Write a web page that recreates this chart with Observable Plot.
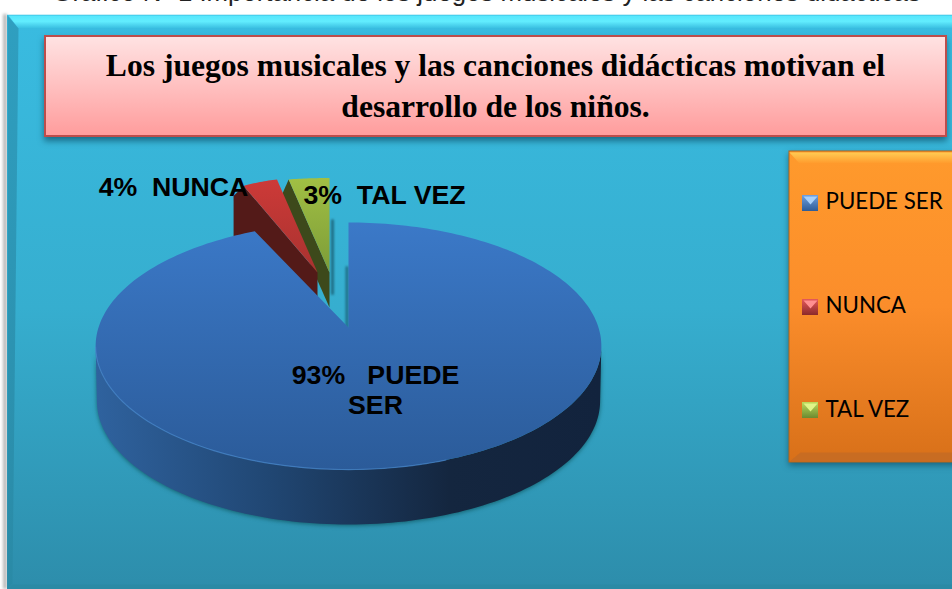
<!DOCTYPE html>
<html><head><meta charset="utf-8">
<script src="https://cdn.jsdelivr.net/npm/d3@7"></script>
<script src="https://cdn.jsdelivr.net/npm/@observablehq/plot@0.6"></script>
<style>html,body{margin:0;padding:0;background:#fff;overflow:hidden}svg{display:block}</style>
</head><body><div id="chart"></div>
<script>
const categories = ["PUEDE SER", "NUNCA", "TAL VEZ"];
const values = [93, 4, 3];
const caption = "Gráfico Nº 1 Importancia de los juegos musicales y las canciones didácticas";
const titleLines = ["Los juegos musicales y las canciones didácticas motivan el", "desarrollo de los niños."];

// --- layout (screen-space canvas, mapped 1:1 through the x/y scales) ---
const W = 952, H = 589;
const apex = [348, 327], R = 250, Q = 120.75, K = -0.15;
const project = (u, v) => { const d = 1 + K * v; return [R * u / d, Q * v / d]; };
const arcs = d3.pie().sort(null)(values);
const arcPoints = (a0, a1, n) => d3.range(n + 1).map(i => {
  const t = a0 + (a1 - a0) * i / n;
  return {t, u: Math.sin(t), v: -Math.cos(t)};
});
const P = (x, y) => ({x, y});

// blue slice (top face + outer wall)
const blueArc = arcPoints(arcs[0].startAngle, arcs[0].endAngle, 240);
const blueTop = [P(...apex), ...blueArc.map(p => { const [a, b] = project(p.u, p.v); return P(apex[0] + a, apex[1] + b); })];
const front = blueArc.filter(p => p.v >= 0.15).map(p => { const [a, b] = project(p.u, p.v); return P(apex[0] + a, apex[1] + b); });
const wallShift = 55;
const blueWall = [...front, ...front.slice().reverse().map(p => P(apex[0] + (p.x - apex[0]) * 0.995, p.y + wallShift))];

// exploded slices: per-slice offset and squeeze of the perspective
const explode = [null,
  {ox: -31, oy: -55, sx: 0.65, sy: 0.9, shear: 0.15, out: [-10, 10], drop: 40, apexDrop: 40},
  {ox: -19, oy: -55, sx: 1.0, sy: 0.9, shear: 0, out: [-8, 18], drop: 0, apexDrop: 35}];
function slice(i) {
  const e = explode[i], a = arcPoints(arcs[i].startAngle, arcs[i].endAngle, 16);
  const c = [apex[0] + e.ox, apex[1] + e.oy];
  const rim = a.map(p => { const [x, y] = project(p.u, p.v); return P(c[0] + x * e.sx + y * e.sy * e.shear, c[1] + y * e.sy); });
  const o = rim[0];
  const wall = [o, P(o.x + e.out[0], o.y + e.out[1]), P(o.x + e.out[0], o.y + e.out[1] + e.drop),
                P(c[0], c[1] + e.apexDrop), P(c[0], c[1])];
  return {top: [P(...c), ...rim], wall};
}
const red = slice(1), green = slice(2);

const rect = (x1, y1, x2, y2, o) => Plot.rect([{x1, y1, x2, y2}], {x1: "x1", y1: "y1", x2: "x2", y2: "y2", ...o});
const poly = (pts, o) => Plot.line(pts, {x: "x", y: "y", curve: "linear-closed", stroke: "none", ...o});
const seg = (pts, o) => Plot.line(pts, {x: "x", y: "y", fill: "none", ...o});

const stop = (o, c) => `<stop offset="${o}" stop-color="${c}"/>`;
const vgrad = (id, y1, y2, s) => `<linearGradient id="${id}" gradientUnits="userSpaceOnUse" x1="0" x2="0" y1="${y1}" y2="${y2}">${s.map(([o, c]) => stop(o, c)).join("")}</linearGradient>`;
const hgrad = (id, x1, x2, s) => `<linearGradient id="${id}" gradientUnits="userSpaceOnUse" y1="0" y2="0" x1="${x1}" x2="${x2}">${s.map(([o, c]) => stop(o, c)).join("")}</linearGradient>`;
const defsMark = () => {
  const g = document.createElementNS("http://www.w3.org/2000/svg", "g");
  const d = document.createElementNS("http://www.w3.org/2000/svg", "defs");
  d.innerHTML = [
    vgrad("panel", 26, 589, [[0, "#39bbe0"], [0.5, "#36aecf"], [1, "#2d8dab"]]),
    vgrad("bevelTop", 15, 28, [[0, "#55e6fc"], [0.45, "#62edfe"], [1, "#38bde0"]]),
    vgrad("bevelLeft", 15, 589, [[0, "#2f9fc0"], [1, "#2a8aa6"]]),
    vgrad("titleBox", 36, 136, [[0, "#ffe3e3"], [0.5, "#ffc0c0"], [1, "#ff9c9c"]]),
    vgrad("legendBox", 151, 462, [[0, "#ff9a2c"], [0.5, "#fb8d2b"], [1, "#d87019"]]),
    vgrad("legendBevel", 151, 163, [[0, "#ffd057"], [1, "#ff9a2c"]]),
    vgrad("blueTop", 222, 470, [[0, "#3b79c8"], [1, "#2b5b99"]]),
    hgrad("blueWall", 96, 600, [[0, "#2f629e"], [0.35, "#204672"], [0.7, "#14263f"], [1, "#12233d"]]),
    vgrad("redTop", 179, 272, [[0, "#cd3a38"], [1, "#a8322f"]]),
    vgrad("greenTop", 176, 272, [[0, "#a2c044"], [1, "#7c9c38"]]),
    ...[[195, "a"], [299, "b"], [402, "c"]].flatMap(([y, k], i) => {
      const c = [["#6fa0e0", "#2f5c97"], ["#e5585a", "#8c2a2a"], ["#bcdc5c", "#6c8a30"]][i];
      return [vgrad("sw" + k, y, y + 16, [[0, c[0]], [1, c[1]]])];
    })
  ].join("");
  g.appendChild(d);
  return g;
};

const swatchY = [195, 299, 402], swatchId = ["swa", "swb", "swc"], swatchHi = ["#a8d0fa", "#ff8f90", "#e0f588"];
const legendTextY = [201, 305, 409];
const sliceLabels = [
  {x: 375, y: 389, text: `${values[0]}%\u00a0\u00a0\u00a0${categories[0]}`.replace(" SER", "\nSER")},
  {x: 173, y: 186, text: `${values[1]}%\u00a0\u00a0${categories[1]}`},
  {x: 384, y: 194, text: `${values[2]}%\u00a0\u00a0${categories[2]}`}
];

const chart = Plot.plot({
  width: W, height: H, margin: 0,
  x: {domain: [0, W], range: [0, W], axis: null},
  y: {domain: [0, H], range: [0, H], axis: null},
  style: {background: "#fff"},
  marks: [
    defsMark,
    Plot.text([caption], {x: 486, y: 0, text: d => d, fontFamily: "Liberation Sans", fontSize: 25.8, fill: "#222", lineAnchor: "bottom"}),
    // panel
    rect(3, 14, 7, H, {fill: "#bbb", imageFilter: "blur(1.5px)"}),
    rect(7, 14, W, H, {fill: "url(#panel)"}),
    poly([P(8, 15), P(W, 15), P(W, 28), P(18, 28)], {fill: "url(#bevelTop)"}),
    poly([P(7, 15), P(18, 28), P(12, 583), P(7, H)], {fill: "url(#bevelLeft)"}),
    poly([P(7, H), P(12, 584), P(W, 584), P(W, H)], {fill: "#2b8aa5"}),
    seg([P(7, 14), P(W, 14)], {stroke: "#c9eef6", strokeWidth: 1}),
    // title box
    rect(45, 36, 946, 136, {fill: "url(#titleBox)", stroke: "#bd4d4b", strokeWidth: 2, imageFilter: "drop-shadow(0 4px 3px rgba(0,50,70,.55))"}),
    Plot.text(titleLines, {x: 495, y: (d, i) => [65, 106][i], text: d => d, fontFamily: "Liberation Serif", fontWeight: "bold", fontSize: 31.6, fill: "#000"}),
    // legend box
    rect(789, 151, 962, 462, {fill: "url(#legendBox)", stroke: "#b0661e", strokeWidth: 1, imageFilter: "drop-shadow(0 3px 3px rgba(0,50,70,.5))"}),
    poly([P(789, 152), P(W, 152), P(W, 163), P(799, 163)], {fill: "url(#legendBevel)"}),
    poly([P(789, 461), P(W, 461), P(W, 452), P(800, 452)], {fill: "#c86c22"}),
    ...swatchY.flatMap((y, i) => [
      rect(802, y, 818, y + 16, {fill: `url(#${swatchId[i]})`}),
      poly([P(803, y + 1), P(817, y + 1), P(810, y + 9)], {fill: swatchHi[i]})
    ]),
    Plot.text(categories, {x: 825, y: (d, i) => legendTextY[i], text: d => d, textAnchor: "start", fontFamily: "Lato", fontSize: 22.3, fill: "#000"}),
    // pie: exploded slices behind, blue in front
    seg([P(332, 220), P(332, 293)], {stroke: "#1f6f87", strokeWidth: 3, imageFilter: "blur(1px)"}),
    seg([P(346.5, 267), P(346.5, 327)], {stroke: "#1f6f87", strokeWidth: 3, imageFilter: "blur(1px)"}),
    poly(green.wall, {fill: "#3d491b"}),
    poly(green.top, {fill: "url(#greenTop)"}),
    poly(red.wall, {fill: "#531a18"}),
    poly(red.top, {fill: "url(#redTop)"}),
    poly(blueWall, {fill: "url(#blueWall)", imageFilter: "drop-shadow(0 1px 2px rgba(0,60,60,.6))"}),
    poly(blueTop, {fill: "url(#blueTop)"}),
    seg(front.filter(p => p.x < 450), {stroke: "#4a86cc", strokeWidth: 1.2, strokeOpacity: 0.7}),
    // slice labels
    Plot.text(sliceLabels, {x: "x", y: "y", text: "text", fontFamily: "Liberation Sans", fontWeight: "bold", fontSize: 26.7, lineHeight: 1.13, fill: "#000"})
  ]
});
document.getElementById("chart").appendChild(chart);
</script></body></html>
